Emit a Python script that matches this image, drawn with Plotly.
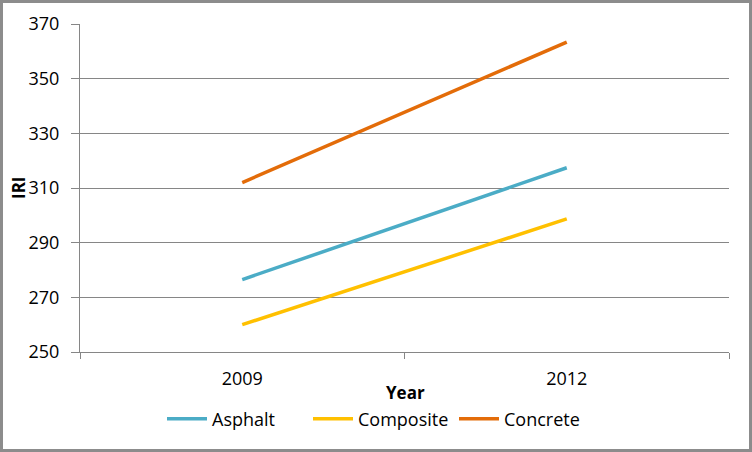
import plotly.graph_objects as go

years = ["2009", "2012"]
asphalt = [276.5, 317.4]
composite = [260.0, 298.7]
concrete = [312.0, 363.4]
series_names = ["Asphalt", "Composite", "Concrete"]
series_colors = ["#4BACC6", "#FFC000", "#E36C09"]
y_ticks = [250, 270, 290, 310, 330, 350, 370]

W, H = 752, 452
ML, MR, MT, MB = 80, 23, 24, 100
FONT = "Open Sans"
GRID = "#868686"

fig = go.Figure()
for name, vals, col in zip(series_names, [asphalt, composite, concrete], series_colors):
    fig.add_trace(go.Scatter(x=years, y=vals, mode="lines", name=name,
                             line=dict(color=col, width=3.5)))

pw = W - ML - MR
ph = H - MT - MB

fig.update_layout(
    width=W, height=H,
    margin=dict(l=ML, r=MR, t=MT, b=MB, pad=0),
    paper_bgcolor="white", plot_bgcolor="white",
    font=dict(family=FONT, size=18, color="black"),
    showlegend=True,
    legend=dict(orientation="h", x=(168 - 6 - ML) / pw, xanchor="left",
                y=(MT + ph - 419) / ph, yanchor="middle",
                font=dict(size=18), itemwidth=40,
                traceorder="normal", entrywidth=91, entrywidthmode="pixels",
                bgcolor="rgba(0,0,0,0)"),
    xaxis=dict(type="category", range=[-0.5, 1.5], showgrid=False,
               showline=True, linecolor=GRID, linewidth=1,
               ticks="outside", tickson="boundaries", ticklen=6, tickcolor=GRID,
               ticklabelstandoff=10, tickfont=dict(size=18)),
    yaxis=dict(range=[250, 370], tickvals=y_ticks, showgrid=True, gridcolor=GRID,
               gridwidth=1, showline=True, linecolor=GRID, linewidth=1,
               ticks="outside", ticklen=8, tickcolor=GRID, zeroline=False,
               ticklabelstandoff=8, tickfont=dict(size=18)),
)

fig.add_annotation(text="<b>Year</b>", xref="paper", yref="paper",
                   x=(405 - ML) / pw, y=(MT + ph - 392) / ph,
                   showarrow=False, xanchor="center", yanchor="middle",
                   font=dict(size=17, family=FONT))
fig.add_annotation(text="<b>IRI</b>", xref="paper", yref="paper",
                   x=(18 - ML) / pw, y=(MT + ph - 188) / ph,
                   showarrow=False, xanchor="center", yanchor="middle",
                   textangle=-90, font=dict(size=17, family=FONT))

# outer chart border
fig.add_shape(type="rect", xref="paper", yref="paper",
              x0=(1.5 - ML) / pw, x1=(W - 1.5 - ML) / pw,
              y0=(MT + ph - (H - 1.5)) / ph, y1=(MT + ph - 1.5) / ph,
              line=dict(color="#8C8C8C", width=3), fillcolor="rgba(0,0,0,0)",
              layer="above")

fig.write_html("out.html", config={"displayModeBar": False},
               post_script="document.body.style.margin='0';document.body.style.overflow='hidden';")
